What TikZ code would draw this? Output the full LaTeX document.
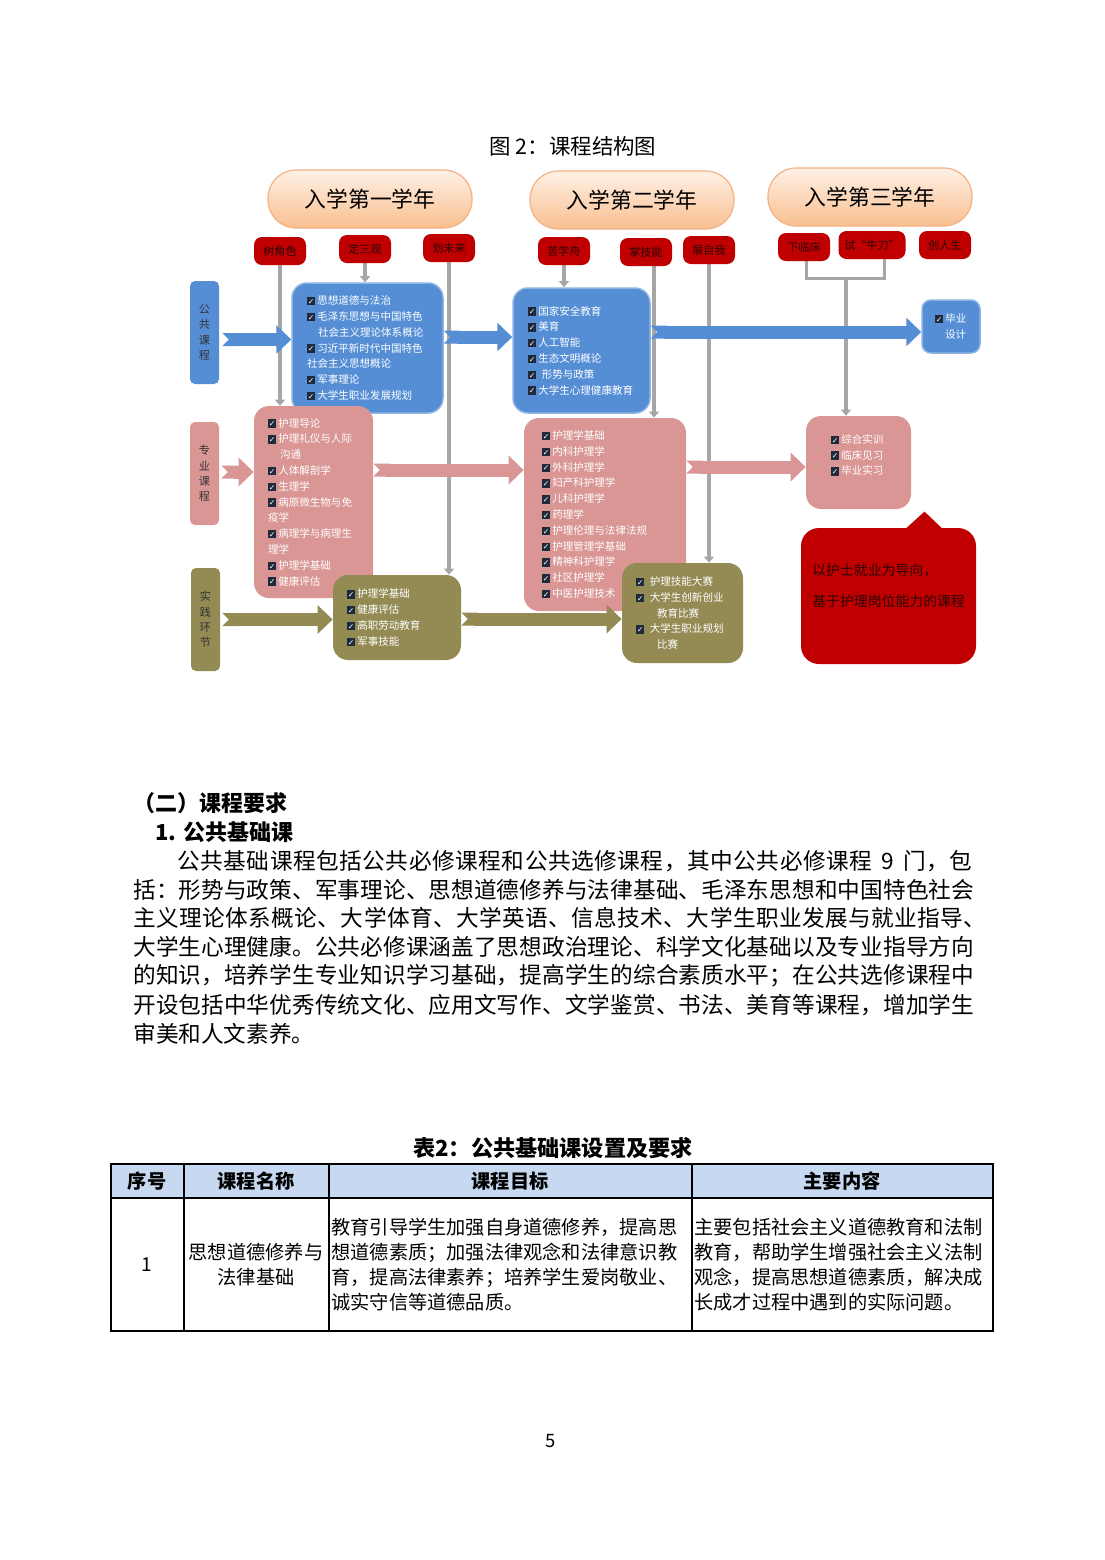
\documentclass[tikz,border=0pt]{standalone}
\usepackage{fontspec}
\setmainfont{Noto Sans CJK SC}
\newfontfamily\dejavu{DejaVu Sans}
\usetikzlibrary{arrows.meta,backgrounds}

\newdimen\pxu
\pxu=0.1902mm

\definecolor{pubblue}{HTML}{558ED5}
\definecolor{publine}{HTML}{8DB3E2}
\definecolor{propink}{HTML}{D99694}
\definecolor{pracolive}{HTML}{948A54}
\definecolor{tagred}{HTML}{C00000}
\definecolor{tagtext}{HTML}{2A0505}
\definecolor{linkgray}{HTML}{A6A6A6}
\definecolor{pilltop}{HTML}{FEF1E6}
\definecolor{pillbot}{HTML}{F9BF8F}
\definecolor{pillline}{HTML}{F4B183}
\definecolor{chkdark}{HTML}{1F2A3C}
\definecolor{headblue}{HTML}{C6D9F1}

\newcommand{\chk}{\makebox[0.98em][l]{\textcolor{chkdark}{\rule[-0.08em]{0.8em}{0.8em}}\hspace{-0.8em}\makebox[0.8em]{\raisebox{0.02em}{\dejavu\fontsize{4.2}{5}\selectfont\color{white}✓}}}}
\newcommand{\boxfont}{\fontsize{5.7}{8.55}\selectfont}
\newcommand{\parafont}{\fontsize{12.25}{14}\selectfont}

\begin{document}
\begin{tikzpicture}[
		x=\pxu, y=-\pxu,
		every node/.style={inner sep=0pt},
		year/.style={
			draw=pillline,
			line width=1.2\pxu,
			top color=pilltop,
			bottom color=pillbot,
			rounded corners=28\pxu,
			minimum width=204\pxu,
			minimum height=58\pxu,
			font=\fontsize{11.8}{12}\selectfont
		},
		tag/.style={
			fill=tagred,
			rounded corners=8\pxu,
			minimum width=52\pxu,
			minimum height=28\pxu,
			text=tagtext,
			font=\fontsize{6}{7}\selectfont
		},
		cat/.style={
			rounded corners=5\pxu,
			minimum width=29\pxu,
			minimum height=103\pxu,
			align=center,
			text=black!80,
			font=\fontsize{6}{8.3}\selectfont
		},
		box/.style={
			rounded corners=15\pxu,
			align=left,
			text=white,
			font=\boxfont
		},
		pub/.style={box, fill=pubblue, draw=publine, line width=1.5\pxu},
		pro/.style={box, fill=propink},
		prac/.style={box, fill=pracolive},
		link/.style={
			draw=linkgray,
			line width=4\pxu,
			-{Triangle[length=1.15mm,width=1.9mm]}
		},
		bracket/.style={draw=linkgray, line width=3\pxu},
		flow/.style={
			line width=13\pxu,
			{Triangle Cap[reversed]}-{Triangle[length=2.85mm,width=5.3mm]}
		},
		para/.style={anchor=west, font=\parafont},
		heading/.style={anchor=west, font=\bfseries\fontsize{11.9}{14}\selectfont},
		cell/.style={font=\fontsize{10.4}{13.5}\selectfont},
		rule/.style={draw=black, line width=1.3\pxu}
	]
	\begin{pgfonlayer}{background}
		\fill[white] (0,0) rectangle (1104,1560);
	\end{pgfonlayer}
	\useasboundingbox (0,0) rectangle (1104,1560);

	\node[font=\fontsize{11.6}{13}\selectfont] (title) at (573,146) {图 2：课程结构图};

	% school years
	\node[year] (y1) at (370,199) {入学第一学年};
	\node[year] (y2) at (632,200) {入学第二学年};
	\node[year] (y3) at (870,197) {入学第三学年};

	\node[tag] (role) at (280,251) {树角色};
	\node[tag] (views) at (365,249) {定三观};
	\node[tag] (future) at (449,248) {划未来};
	\node[tag] (study) at (564,251) {苦学舟};
	\node[tag] (skill) at (646,252) {掌技能};
	\node[tag] (self) at (709,250) {展自我};
	\node[tag] (clinic) at (804,247) {下临床};
	\node[tag, minimum width=67\pxu] (trial) at (872,245) {试“牛刀”};
	\node[tag] (life) at (945,245) {创人生};

	% course groups
	\node[cat, fill=pubblue] (pubcat) at (204.5,332.5) {公\\共\\课\\程};
	\node[cat, fill=propink] (procat) at (204.5,473.5) {专\\业\\课\\程};
	\node[cat, fill=pracolive] (praccat) at (205.5,619.5) {实\\践\\环\\节};

	\node[pub, text width=121\pxu, inner xsep=15\pxu, minimum height=130\pxu] (pub1) at (367.5,348) {
		\chk{}思想道德与法治\\
		\chk{}毛泽东思想与中国特色\\
		\hspace*{11\pxu}社会主义理论体系概论\\
		\chk{}习近平新时代中国特色\\
		社会主义思想概论\\
		\chk{}军事理论\\
		\chk{}大学生职业发展规划};
	\node[pub, text width=107\pxu, inner xsep=15\pxu, minimum height=125\pxu] (pub2) at (581.5,350.5) {
		\chk{}国家安全教育\\
		\chk{}美育\\
		\chk{}人工智能\\
		\chk{}生态文明概论\\
		\chk\ 形势与政策\\
		\chk{}大学生心理健康教育};
	\node[pub, rounded corners=9\pxu, text width=32\pxu, inner xsep=13\pxu, minimum height=53\pxu] (grad) at (951,326.5) {
		\chk{}毕业\\
		\hspace*{10\pxu}设计};

	\node[pro, text width=91\pxu, inner xsep=14\pxu, minimum height=192\pxu] (pro1) at (313.5,502) {
		\chk{}护理导论\\
		\chk{}护理礼仪与人际\\
		\hspace*{12\pxu}沟通\\
		\chk{}人体解剖学\\
		\chk{}生理学\\
		\chk{}病原微生物与免\\
		疫学\\
		\chk{}病理学与病理生\\
		理学\\
		\chk{}护理学基础\\
		\chk{}健康评估};
	\node[pro, text width=126\pxu, inner xsep=18\pxu, minimum height=193\pxu] (pro2) at (605,514.5) {
		\chk{}护理学基础\\
		\chk{}内科护理学\\
		\chk{}外科护理学\\
		\chk{}妇产科护理学\\
		\chk{}儿科护理学\\
		\chk{}药理学\\
		\chk{}护理伦理与法律法规\\
		\chk{}护理管理学基础\\
		\chk{}精神科护理学\\
		\chk{}社区护理学\\
		\chk{}中医护理技术};
	\node[pro, text width=55\pxu, inner xsep=25\pxu, minimum height=93\pxu] (pro3) at (858.5,462.5) {
		\chk{}综合实训\\
		\chk{}临床见习\\
		\chk{}毕业实习\\
		\mbox{}};

	\node[prac, text width=100\pxu, inner xsep=14\pxu, minimum height=85\pxu] (prac2) at (397,617.5) {
		\chk{}护理学基础\\
		\chk{}健康评估\\
		\chk{}高职劳动教育\\
		\chk{}军事技能};
	\node[prac, text width=93\pxu, inner xsep=14\pxu, minimum height=100\pxu] (prac3) at (682.5,613) {
		\chk\ 护理技能大赛\\
		\chk\ 大学生创新创业\\
		\hspace*{21\pxu}教育比赛\\
		\chk\ 大学生职业规划\\
		\hspace*{21\pxu}比赛};

	% guiding note
	\node[fill=tagred, rounded corners=18\pxu, minimum width=175\pxu, minimum height=136\pxu] (note) at (888.5,596) {};
	\fill[tagred] ([xshift=15\pxu, yshift=-3\pxu]note.north) -- ++(21,-19) -- ++(20,19) -- cycle;
	\node[anchor=west, align=left, text=tagtext, font=\fontsize{7.5}{9}\selectfont] (motto) at (812,585.5)
		{以护士就业为导向，\\[14.4\pxu]基于护理岗位能力的课程};

	\begin{pgfonlayer}{background}
		\draw[link] (role.south) -- (role.south |- pro1.north);
		\draw[link] (views.south) -- (views.south |- pub1.north);
		\draw[link] (future.south) -- (future.south |- prac2.north);
		\draw[link] (study.south) -- (study.south |- pub2.north);
		\draw[link] ([xshift=8\pxu]skill.south) -- ([xshift=8\pxu]skill.south |- pro2.north);
		\draw[link] (self.south) -- (self.south |- prac3.north);
		\coordinate (join) at (846,278);
		\draw[bracket] ([xshift=2\pxu]clinic.south) |- (join) -| ([xshift=12\pxu]trial.south);
		\draw[link] (join) -- (join |- pro3.north);

		\draw[flow, pubblue] ([xshift=3\pxu, yshift=-7\pxu]pubcat.east) -- ([yshift=-7\pxu]pubcat.east -| pub1.west);
		\draw[flow, pubblue] ([yshift=11\pxu]pub1.east) -- ([yshift=11\pxu]pub1.east -| pub2.west);
		\draw[flow, pubblue] ([yshift=18.5\pxu]pub2.east) -- ([yshift=18.5\pxu]pub2.east -| grad.west);
		\draw[flow, propink] ([xshift=2\pxu, yshift=1.5\pxu]procat.east) -- ([yshift=1.5\pxu]procat.east -| pro1.west);
		\draw[flow, propink] ([yshift=32\pxu]pro1.east) -- ([yshift=32\pxu]pro1.east -| pro2.west);
		\draw[flow, propink] ([yshift=47.5\pxu]pro2.east) -- ([yshift=47.5\pxu]pro2.east -| pro3.west);
		\draw[flow, pracolive] ([xshift=2\pxu]praccat.east) -- (praccat.east -| prac2.west);
	\end{pgfonlayer}
	\draw[flow, pracolive] ([yshift=-1.5\pxu]prac2.east) -- ([yshift=-1.5\pxu]prac2.east -| prac3.west);

	% text of the page
	\node[heading] (sect) at (133,803) {（二）课程要求};
	\node[heading] (sub) at (155,832) {1. 公共基础课};
	\node[para] (p1) at (177,861) {\makebox[795\pxu][s]{\addfontfeature{LetterSpace=2.4}公共基础课程包括公共必修课程和公共选修课程，其中公共必修课程\hspace{7\pxu plus 20\pxu}9\hspace{7\pxu plus 20\pxu}门，包}};
	\node[para] (p2) at (133,890) {\addfontfeature{LetterSpace=0.4}括：形势与政策、军事理论、思想道德修养与法律基础、毛泽东思想和中国特色社会};
	\node[para] (p3) at (133,918) {\addfontfeature{LetterSpace=1.9}主义理论体系概论、大学体育、大学英语、信息技术、大学生职业发展与就业指导、};
	\node[para] (p4) at (133,947) {\addfontfeature{LetterSpace=0.4}大学生心理健康。公共必修课涵盖了思想政治理论、科学文化基础以及专业指导方向};
	\node[para] (p5) at (133,976) {\addfontfeature{LetterSpace=0.4}的知识，培养学生专业知识学习基础，提高学生的综合素质水平；在公共选修课程中};
	\node[para] (p6) at (133,1005) {\addfontfeature{LetterSpace=0.4}开设包括中华优秀传统文化、应用文写作、文学鉴赏、书法、美育等课程，增加学生};
	\node[para] (p7) at (133,1034) {审美和人文素养。};

	% table
	\node[font=\bfseries\fontsize{12}{14}\selectfont] (tabtitle) at (553,1148) {表2：公共基础课设置及要求};
	\fill[headblue] (111,1164) rectangle (993,1198);
	\draw[rule] (111,1164) rectangle (993,1331);
	\draw[rule] (111,1198) -- (993,1198);
	\foreach \x in {184,329,692}
		\draw[rule] (\x,1164) -- (\x,1331);
	\node[cell, font=\bfseries\fontsize{10.4}{12}\selectfont] (hno) at (147,1181) {序号};
	\node[cell, font=\bfseries\fontsize{10.4}{12}\selectfont] (hname) at (256,1181) {课程名称};
	\node[cell, font=\bfseries\fontsize{10.4}{12}\selectfont] (hgoal) at (510,1181) {课程目标};
	\node[cell, font=\bfseries\fontsize{10.4}{12}\selectfont] (hcont) at (842,1181) {主要内容};
	\node[cell] (no) at (147,1265) {1};
	\node[cell, align=center] (cname) at (256,1264.5) {思想道德修养与\\法律基础};
	\node[cell, anchor=west, align=left] (goal) at (331,1264.5) {
		教育引导学生加强自身道德修养，提高思\\
		想道德素质；加强法律观念和法律意识教\\
		育，提高法律素养；培养学生爱岗敬业、\\
		诚实守信等道德品质。};
	\node[cell, anchor=west, align=left] (cont) at (694,1264.5) {
		主要包括社会主义道德教育和法制\\
		教育，帮助学生增强社会主义法制\\
		观念，提高思想道德素质，解决成\\
		长成才过程中遇到的实际问题。};

	\node[font=\fontsize{10}{12}\selectfont] (page) at (551,1441) {5};
\end{tikzpicture}
\end{document}
